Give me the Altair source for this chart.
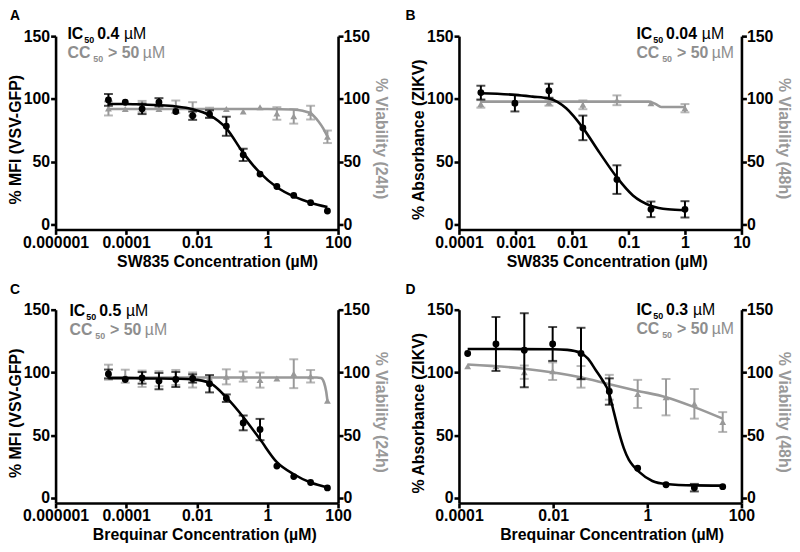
import altair as alt
import pandas as pd

FONT = "Liberation Sans"
BLACK = "#000000"
GREY = "#999999"
TGREY = "#8e8e8e"

# ---------------- Panel A (SW835, VSV-GFP) ----------------
A_dose = [0.0000314, 0.0000941, 0.000282, 0.000847, 0.00254, 0.00762, 0.0229,
          0.0686, 0.206, 0.617, 1.85, 5.56, 16.7, 50]
A_inh = [99.2, 97.3, 92.1, 97.3, 90.0, 86.6, 87.9, 78.2, 55.4, 40.1, 30.2, 23.1, 17.3, 10.7]
A_inh_err = [4.7, 0, 4.2, 3.3, 0, 3.3, 3.0, 7.6, 4.9, 0, 0, 0, 0, 0]
A_via = [92.4, 92.0, 93.9, 92.0, 93.7, 92.0, 89.0, 92.0, 90.0, 93.4, 88.4, 86.1, 89.0, 69.8]
A_via_err = [5.6, 0, 4.5, 0, 5.0, 5.4, 4.0, 0, 0, 0, 5.0, 5.8, 5.5, 5.0]
A_fit_inh_x = A_dose
A_fit_inh_y = [96, 96, 95.5, 95, 94, 91.8, 87, 76.5, 57, 41, 29.6, 22.3, 17.3, 13.8]
A_fit_via_x = [0.0000314, 1, 5, 10, 16.7, 28, 38, 50]
A_fit_via_y = [92, 92, 91.5, 90.5, 88.5, 82, 76.5, 70]

# ---------------- Panel B (SW835, ZIKV) ----------------
B_dose = [0.000244, 0.000977, 0.00391, 0.0156, 0.0625, 0.25, 1]
B_inh = [105.0, 96.6, 106.5, 76.9, 35.7, 12.0, 12.0]
B_inh_err = [5.5, 6.6, 5.6, 9.8, 11.4, 6.2, 6.5]
B_via = [96.0, 97.0, 97.1, 95.3, 98.9, 96.6, 92.6]
B_via_err = [3.0, 0, 2.5, 3.5, 3.9, 0, 3.3]
B_fit_inh_x = [0.000244, 0.000977, 0.002, 0.0039, 0.0079, 0.0156, 0.0307, 0.0624,
               0.12, 0.255, 0.5, 1]
B_fit_inh_y = [104.5, 103.2, 101.8, 100.3, 92.5, 76.9, 57.2, 37.5, 23.1, 14.7, 12, 11.3]
B_fit_via_x = [0.000244, 0.23, 0.3, 0.38, 1]
B_fit_via_y = [97.8, 97.8, 96, 93.5, 93.5]

# ---------------- Panel C (Brequinar, VSV-GFP) ----------------
C_dose = A_dose
C_inh = [98.8, 94.4, 95.7, 93.1, 94.4, 95.2, 91.0, 79.5, 59.8, 54.5, 25.4, 17.0, 12.3, 8.0]
C_inh_err = [3.5, 0, 4.6, 6.5, 6.0, 3.3, 6.9, 3.0, 5.9, 8.5, 0, 0, 0, 0]
C_via = [100.2, 97.0, 95.0, 95.0, 96.0, 94.0, 96.0, 96.5, 96.7, 93.9, 95.2, 99.0, 97.0, 77.5]
C_via_err = [6.0, 5.2, 6.5, 6.0, 6.0, 6.0, 0, 6.0, 4.0, 6.0, 0, 11.5, 5.0, 0]
C_fit_inh_x = A_dose
C_fit_inh_y = [95.5, 95.5, 95.3, 95.2, 95, 94.5, 91.8, 80.1, 64.5, 46.7, 28.5, 18.9, 12.3, 8.4]
C_fit_via_x = [0.0000314, 25, 33, 40, 46, 50]
C_fit_via_y = [96, 96, 95.5, 92, 85, 77.5]

# ---------------- Panel D (Brequinar, ZIKV) ----------------
D_dose = [0.000153, 0.00061, 0.00244, 0.00977, 0.0391, 0.156, 0.625, 2.5, 10, 40]
D_inh = [115.1, 122.7, 117.7, 122.7, 115.1, 84.8, 23.7, 10.5, 8.2, 9.0]
D_inh_err = [0, 21.5, 29.5, 13.5, 20.5, 10.5, 0, 0, 3.0, 0]
D_via = [105.0, 105.0, 100.2, 101.0, 96.5, 88.2, 82.9, 80.3, 75.0, 60.5]
D_via_err = [0, 0, 5.3, 7.0, 8.6, 9.9, 11.2, 14.5, 11.8, 7.9]
D_fit_inh_x = [0.000153, 0.01, 0.02, 0.038, 0.055, 0.08, 0.111, 0.15, 0.195, 0.249,
               0.318, 0.407, 0.52, 0.66, 1.28, 2.5, 10, 40]
D_fit_inh_y = [118.7, 118.5, 118, 115.5, 111, 102, 94, 84.8, 68.4, 52.6, 39.5, 30.3,
               25, 21, 13.5, 11.1, 10, 9.8]
D_fit_via_x = [0.000153, 0.00244, 0.038, 0.15, 0.6, 2.5, 10, 40]
D_fit_via_y = [106.3, 103, 96.2, 90.8, 85.5, 80.3, 72.4, 63.2]

# ---------------- Text ----------------
letters = ["A", "B", "C", "D"]
ic_values = ["0.4", "0.04", "0.5", "0.3"]
left_titles = ["% MFI (VSV-GFP)", "% Absorbance (ZIKV)", "% MFI (VSV-GFP)", "% Absorbance (ZIKV)"]
right_titles = ["% Viability (24h)", "% Viability (48h)", "% Viability (24h)", "% Viability (48h)"]
x_titles = ["SW835 Concentration (µM)", "SW835 Concentration (µM)",
            "Brequinar Concentration (µM)", "Brequinar Concentration (µM)"]
x_domains = [[1e-6, 100], [1e-4, 10], [1e-6, 100], [1e-4, 100]]
x_ticks = [[1e-6, 1e-4, 1e-2, 1, 100], [1e-4, 1e-3, 1e-2, 1e-1, 1, 10],
           [1e-6, 1e-4, 1e-2, 1, 100], [1e-4, 1e-2, 1, 100]]
y_ticks = [0, 50, 100, 150]

W, H = 285, 195
YDOM = [-4, 150]

# layout helpers (pixel offsets of annotations inside each panel)
text_x0 = [12, 179, 14, 179]
text_b1 = [3, 3, 6, 5]
text_b2 = [22, 22.5, 25.5, 25]
title_x = [163, 149, 150, 154]
letter_x = [-46, -54, -46, -54]

AX = dict(domainColor=BLACK, domainWidth=2.6, tickColor=BLACK, tickWidth=2.6, tickSize=5,
          labelFont=FONT, labelFontSize=16, labelFontWeight="bold", labelColor=BLACK,
          titleFont=FONT, titleFontSize=16, titleFontWeight="bold", grid=False,
          labelFlush=False, labelOverlap=False)


def one():
    return pd.DataFrame({"k": [0]})


def txt(s, x, y, size, weight, color):
    return alt.Chart(one()).mark_text(
        text=s, font=FONT, fontSize=size, fontWeight=weight, color=color,
        align="left", baseline="alphabetic"
    ).encode(x=alt.value(x), y=alt.value(y))


def panel(i, dose, inh, inh_err, via, via_err, fbx, fby, fgx, fgy):
    xax = alt.Axis(values=x_ticks[i], format=".6~f", title=x_titles[i], titleX=title_x[i],
                   labelPadding=0, titlePadding=3, **AX)
    xs = alt.Scale(type="log", domain=x_domains[i], nice=False)
    X = alt.X("dose:Q", scale=xs, axis=xax)

    ys = alt.Scale(domain=YDOM, nice=False, zero=False)
    ax_l = alt.Axis(orient="left", values=y_ticks, title=left_titles[i], titleY=104,
                    labelPadding=1, titlePadding=0, titleColor=BLACK, **AX)
    ax_r = alt.Axis(orient="right", values=y_ticks, title=right_titles[i], titleY=103,
                    labelPadding=0, titlePadding=3, titleColor=GREY, **AX)

    def group(d, v, e, fx, fy, color, shape, ax):
        pts = pd.DataFrame({"dose": d, "val": v, "err": e})
        pts["lo"] = pts["val"] - pts["err"]
        pts["hi"] = pts["val"] + pts["err"]
        eb = pts[pts["err"] > 0]
        fit = pd.DataFrame({"dose": fx, "val": fy})
        line = alt.Chart(fit).mark_line(color=color, strokeWidth=2.6, interpolate="monotone").encode(
            x=X, y=alt.Y("val:Q", scale=ys, axis=ax))
        rule = alt.Chart(eb).mark_rule(color=color, strokeWidth=2).encode(
            x=X, y=alt.Y("lo:Q", scale=ys, axis=ax), y2="hi:Q")
        cap_lo = alt.Chart(eb).mark_tick(color=color, orient="horizontal", size=9, thickness=2).encode(
            x=X, y=alt.Y("lo:Q", scale=ys, axis=ax))
        cap_hi = alt.Chart(eb).mark_tick(color=color, orient="horizontal", size=9, thickness=2).encode(
            x=X, y=alt.Y("hi:Q", scale=ys, axis=ax))
        pt = alt.Chart(pts).mark_point(shape=shape, filled=True, size=48, color=color, opacity=1).encode(
            x=X, y=alt.Y("val:Q", scale=ys, axis=ax))
        return alt.layer(line, rule, cap_lo, cap_hi, pt)

    grey = group(dose, via, via_err, fgx, fgy, GREY, "triangle-up", ax_r)
    black = group(dose, inh, inh_err, fbx, fby, BLACK, "circle", ax_l)

    x0, b1, b2 = text_x0[i], text_b1[i], text_b2[i]
    vw = {"0.4": 22, "0.04": 31, "0.5": 22, "0.3": 22}[ic_values[i]]
    ann = [
        txt(letters[i], letter_x[i], -16, 14, "bold", BLACK),
        txt("IC", x0, b1, 16, "bold", BLACK),
        txt("50", x0 + 17, b1 + 4, 9, "bold", BLACK),
        txt(ic_values[i], x0 + 30, b1, 16, "bold", BLACK),
        txt("µM", x0 + 30 + vw + 5, b1, 16, "normal", BLACK),
        txt("CC", x0, b2, 16, "bold", TGREY),
        txt("50", x0 + 26, b2 + 4, 9, "bold", TGREY),
        txt("> 50", x0 + 41, b2, 16, "bold", TGREY),
        txt("µM", x0 + 76, b2, 16, "normal", TGREY),
    ]
    return alt.layer(grey, black, *ann).resolve_scale(y="independent").properties(width=W, height=H)


pA = panel(0, A_dose, A_inh, A_inh_err, A_via, A_via_err, A_fit_inh_x, A_fit_inh_y, A_fit_via_x, A_fit_via_y)
pB = panel(1, B_dose, B_inh, B_inh_err, B_via, B_via_err, B_fit_inh_x, B_fit_inh_y, B_fit_via_x, B_fit_via_y)
pC = panel(2, C_dose, C_inh, C_inh_err, C_via, C_via_err, C_fit_inh_x, C_fit_inh_y, C_fit_via_x, C_fit_via_y)
pD = panel(3, D_dose, D_inh, D_inh_err, D_via, D_via_err, D_fit_inh_x, D_fit_inh_y, D_fit_via_x, D_fit_via_y)

chart = alt.concat(pA, pB, pC, pD, columns=2, spacing={"row": 81, "column": 122},
                   bounds="flush").properties(
    padding={"left": -1, "top": -1, "right": 0, "bottom": 0},
    background="white"
).configure_view(stroke=None)

chart.save("out.html", embed_options={"renderer": "svg", "actions": False})
